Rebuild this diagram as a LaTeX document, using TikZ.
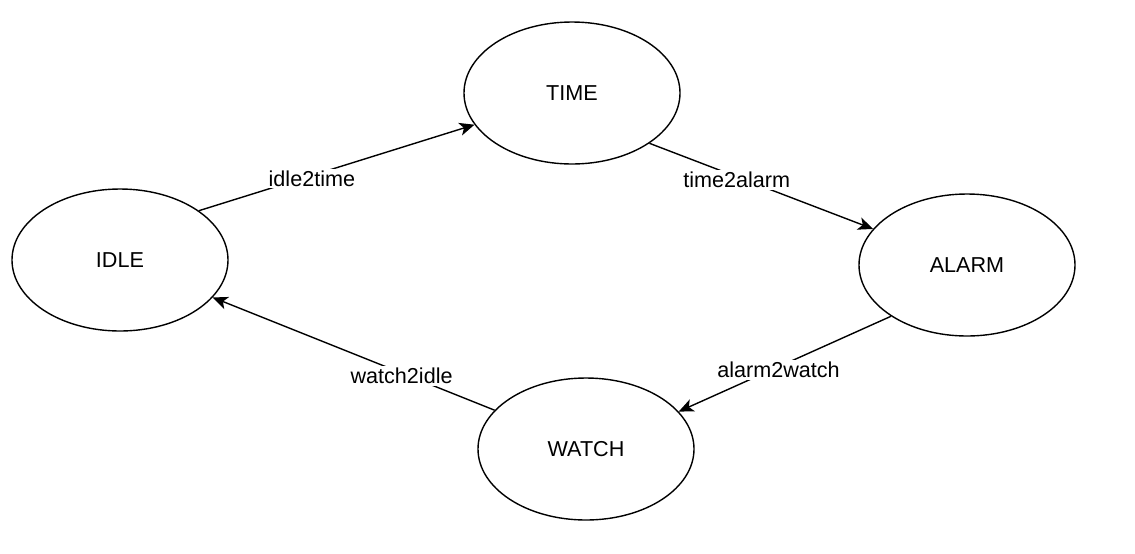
\documentclass[tikz,border=0pt]{standalone}
\usepackage{fontspec}
\setmainfont{Liberation Sans}
\usetikzlibrary{arrows.meta, shapes.geometric}

\tikzset{
  state/.style={draw, ellipse, line width=0.7pt, minimum width=108pt,
    minimum height=71pt, inner sep=0pt, font=\fontsize{10.8}{13}\selectfont},
  trans/.style={line width=0.7pt, -{Stealth[length=7.5pt,width=6.5pt,inset=2pt]}},
  tlabel/.style={fill=white, inner sep=1pt, yshift=-1.5pt, font=\fontsize{10.8}{13}\selectfont}
}

\begin{document}
\begin{tikzpicture}[x=0.5pt, y=-0.5pt]
    \useasboundingbox (0,0) rectangle (1135,553);
    % states
    \node[state] (idle)  at (120,260) {IDLE};
    \node[state] (time)  at (572,93)  {TIME};
    \node[state] (alarm) at (967,265) {ALARM};
    \node[state] (watch) at (586,449) {WATCH};
    % transitions
    \draw[trans] (idle.32.7) -- node[tlabel, pos=0.41] {idle2time} (time.198);
    \draw[trans] (time.-33.7) -- node[tlabel, pos=0.39] {time2alarm} (alarm.159.8);
    \draw[trans] (alarm.214.5) -- node[tlabel, pos=0.53] {alarm2watch} (watch.22.5);
    \draw[trans] (watch.157.5) -- node[tlabel, pos=0.33] {watch2idle} (idle.-22.2);
\end{tikzpicture}
\end{document}
